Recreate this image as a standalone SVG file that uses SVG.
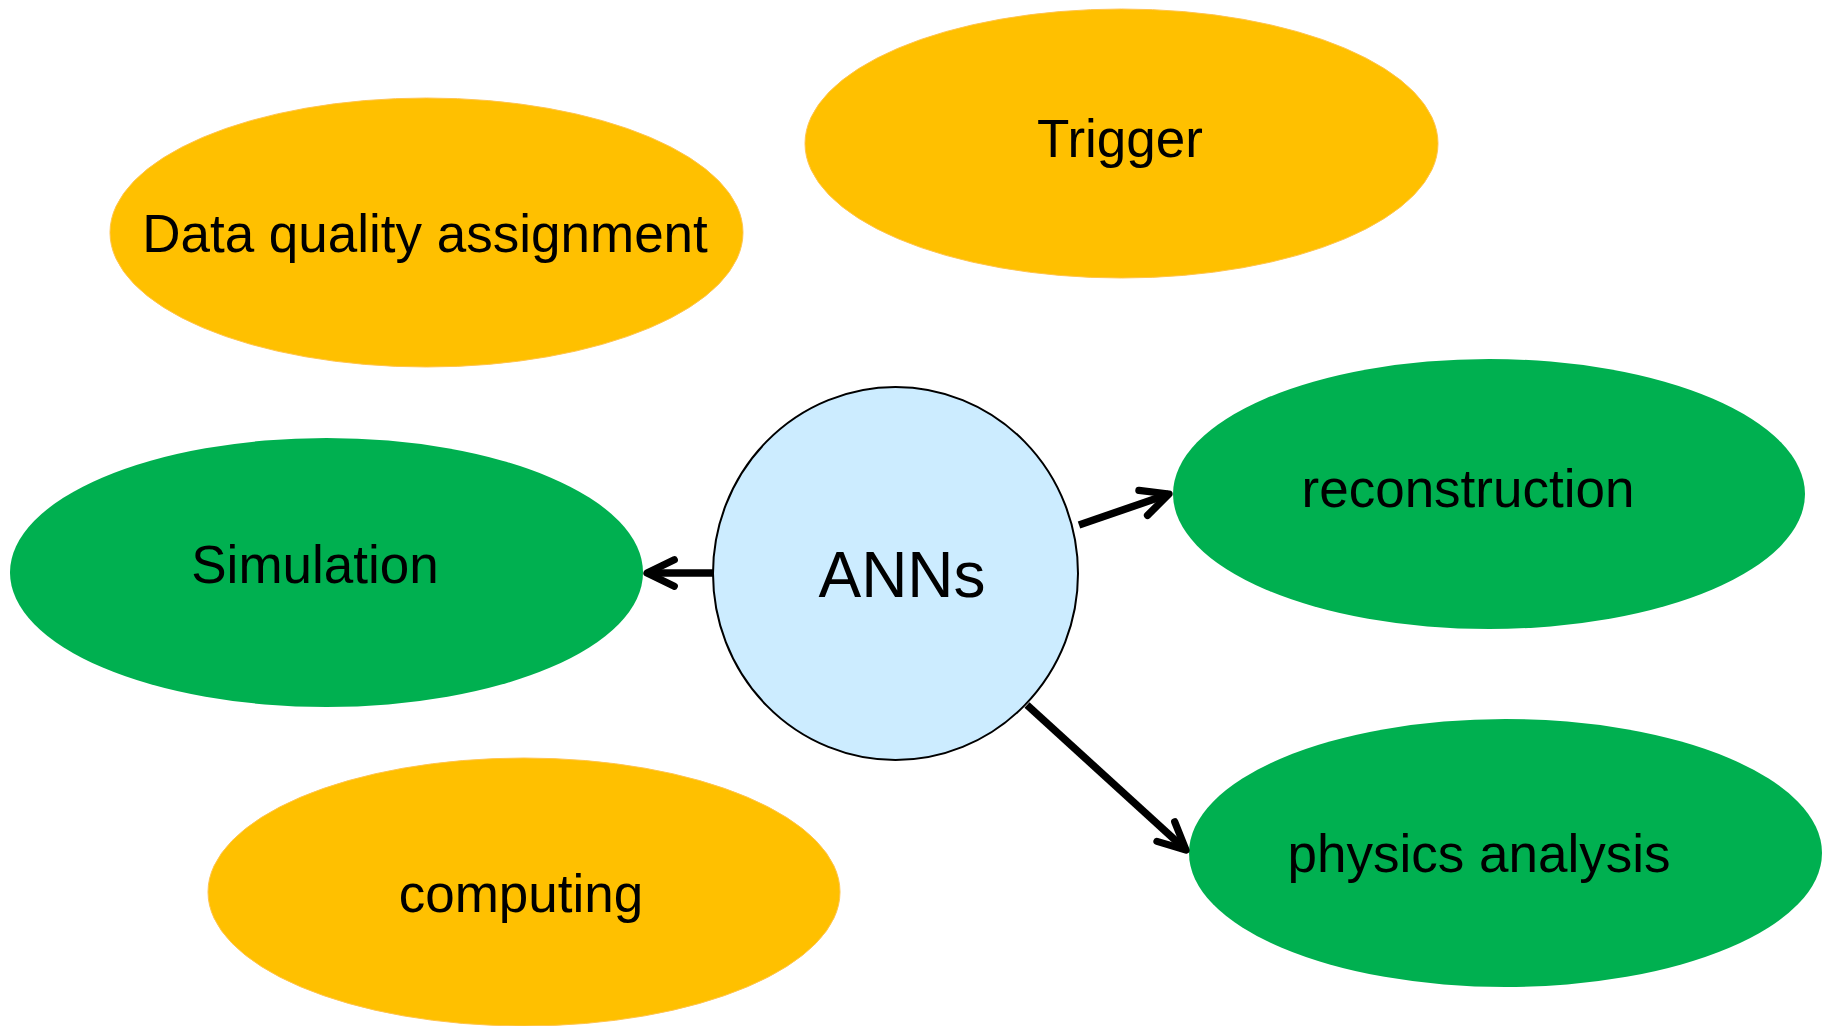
<svg xmlns="http://www.w3.org/2000/svg" width="1833" height="1026" viewBox="0 0 1833 1026">
<style>
.orange{fill:#FFC000;stroke:#FFC44D;stroke-width:1}
.green{fill:#00B050}
.center{fill:#CCECFF;stroke:#000000;stroke-width:2}
text{font-family:"Liberation Sans",Arial,sans-serif;fill:#000000;text-anchor:middle}
.lbl{font-size:53px}
.big{font-size:64px}
.conn{fill:none;stroke:#000000;stroke-width:7.5;stroke-linecap:butt}
</style>
<defs>
<marker id="arrow" markerUnits="userSpaceOnUse" orient="auto" markerWidth="40" markerHeight="40" refX="0" refY="0" viewBox="-40 -20 44 40" overflow="visible">
<path d="M-30,-14.5 L0,0 L-30,14.5" fill="none" stroke="#000000" stroke-width="8" stroke-linecap="round" stroke-linejoin="round"/>
</marker>
</defs>
<rect width="1833" height="1026" fill="#FFFFFF"/>
<g id="trigger"><ellipse class="orange" cx="1121.5" cy="143.5" rx="316.5" ry="134.5"/><text class="lbl" x="1120" y="157">Trigger</text></g>
<g id="data-quality"><ellipse class="orange" cx="426.5" cy="232.5" rx="316.5" ry="134.5"/><text class="lbl" x="425" y="252">Data quality assignment</text></g>
<g id="simulation"><ellipse class="green" cx="326.5" cy="572.5" rx="316.5" ry="134.5"/><text class="lbl" x="315" y="583">Simulation</text></g>
<g id="reconstruction"><ellipse class="green" cx="1489" cy="494" rx="316" ry="135"/><text class="lbl" x="1468" y="507">reconstruction</text></g>
<g id="physics-analysis"><ellipse class="green" cx="1505.5" cy="853" rx="316.5" ry="134"/><text class="lbl" x="1479" y="872">physics analysis</text></g>
<g id="computing"><ellipse class="orange" cx="524" cy="892" rx="316" ry="134"/><text class="lbl" x="521" y="912">computing</text></g>
<g id="anns"><ellipse class="center" cx="895.5" cy="573.5" rx="182.5" ry="186.5"/><text class="big" x="902" y="597">ANNs</text></g>
<g id="connectors">
<line class="conn" x1="713" y1="573" x2="647" y2="573" marker-end="url(#arrow)"/>
<line class="conn" x1="1079" y1="525" x2="1169" y2="494" marker-end="url(#arrow)"/>
<line class="conn" x1="1027" y1="705" x2="1186" y2="850" marker-end="url(#arrow)"/>
</g>
</svg>
